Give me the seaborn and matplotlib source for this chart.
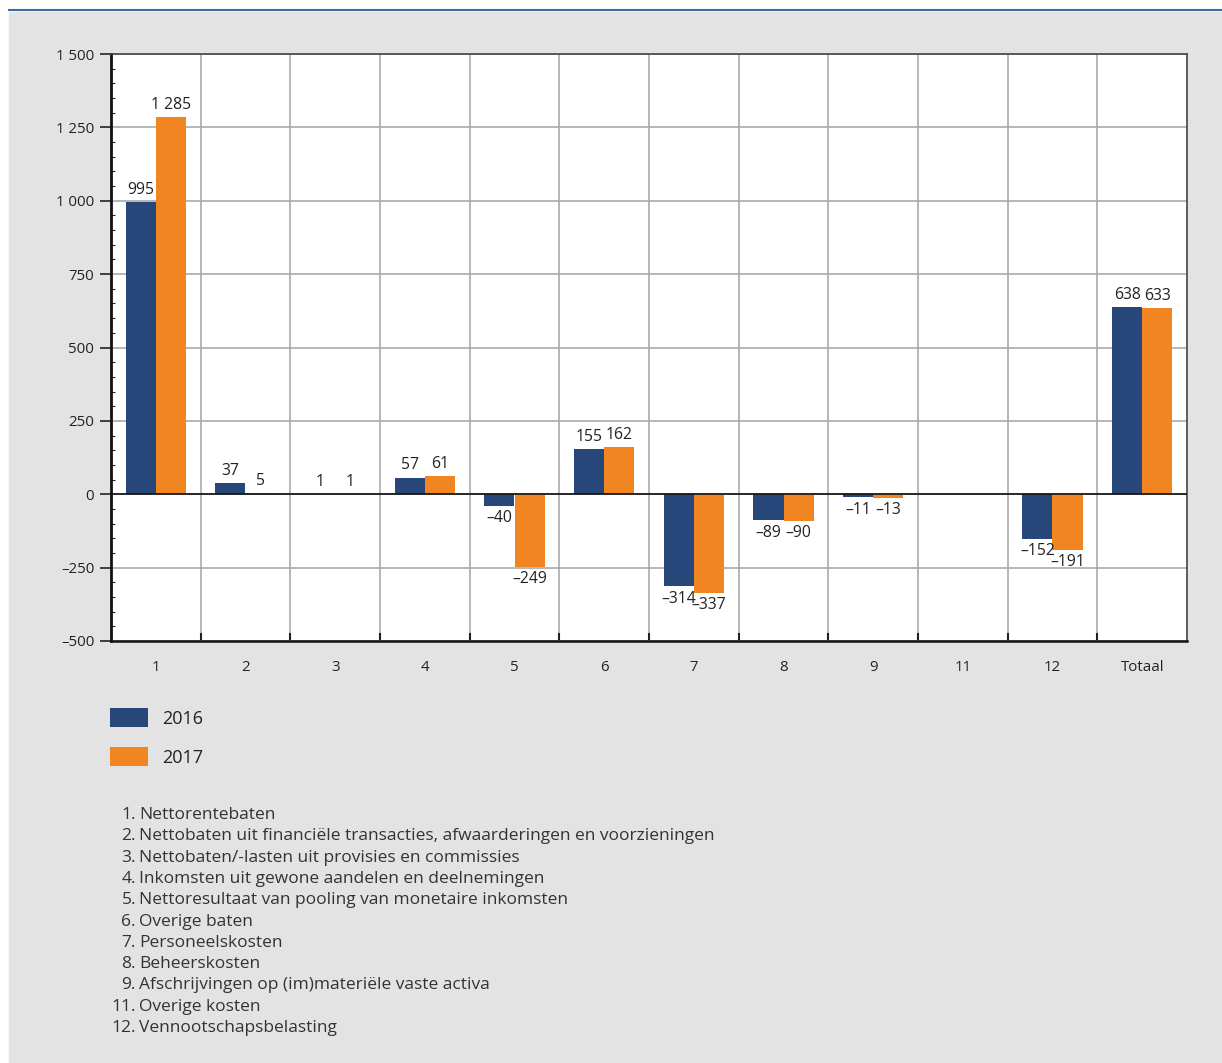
import numpy as np
import pandas as pd
import matplotlib
matplotlib.use('Agg')
import matplotlib.pyplot as plt
import seaborn as sns
from matplotlib.ticker import MultipleLocator, FixedLocator
from matplotlib.patches import Patch

# Gegevens (miljoen euro)
categorieen = ['1', '2', '3', '4', '5', '6', '7', '8', '9', '11', '12', 'Totaal']
waarden_2016 = [995, 37, 1, 57, -40, 155, -314, -89, -11, None, -152, 638]
waarden_2017 = [1285, 5, 1, 61, -249, 162, -337, -90, -13, None, -191, 633]
jaren = ['2016', '2017']
yticks = [-500, -250, 0, 250, 500, 750, 1000, 1250, 1500]
toelichting = [
    ('1.', 'Nettorentebaten'),
    ('2.', 'Nettobaten uit financiële transacties, afwaarderingen en voorzieningen'),
    ('3.', 'Nettobaten/-lasten uit provisies en commissies'),
    ('4.', 'Inkomsten uit gewone aandelen en deelnemingen'),
    ('5.', 'Nettoresultaat van pooling van monetaire inkomsten'),
    ('6.', 'Overige baten'),
    ('7.', 'Personeelskosten'),
    ('8.', 'Beheerskosten'),
    ('9.', 'Afschrijvingen op (im)materiële vaste activa'),
    ('11.', 'Overige kosten'),
    ('12.', 'Vennootschapsbelasting'),
]

kleuren = ['#27477a', '#f08522']
achtergrond = '#e3e3e3'

df = pd.DataFrame({
    'categorie': categorieen * 2,
    'jaar': ['2016'] * len(categorieen) + ['2017'] * len(categorieen),
    'waarde': waarden_2016 + waarden_2017,
})
df['plot'] = df['waarde'].fillna(0).astype(float)

plt.rcParams['font.family'] = ['Open Sans', 'DejaVu Sans']

def fmt(v):
    if v is None or (isinstance(v, float) and np.isnan(v)):
        return ''
    s = f'{abs(int(v)):,}'.replace(',', ' ')
    return ('\u2013' if v < 0 else '') + s

fig = plt.figure(figsize=(12.22, 10.63), dpi=100)
fig.patch.set_facecolor('white')
# grijs kader met blauwe lijn bovenaan
fig.patches.append(plt.Rectangle((9 / 1222, 0), 1 - 9 / 1222, 1 - 12 / 1063,
                                 transform=fig.transFigure, color=achtergrond, zorder=-10))
fig.lines.append(plt.Line2D([9 / 1222, 1], [1 - 10 / 1063] * 2, transform=fig.transFigure,
                            color='#3a6aa0', lw=1.5, zorder=-9))

ax = fig.add_axes([111 / 1222, 1 - 641 / 1063, (1187 - 111) / 1222, (641 - 54) / 1063])
ax.set_facecolor('white')

sns.barplot(data=df, x='categorie', y='plot', hue='jaar', order=categorieen,
            hue_order=jaren, palette=kleuren, width=0.67, saturation=1,
            legend=False, ax=ax, zorder=3)

for cont, waarden in zip(ax.containers, [waarden_2016, waarden_2017]):
    ax.bar_label(cont, labels=[fmt(v) for v in waarden], padding=3, fontsize=11.3,
                 color='#222222')

ax.set_xlim(-0.5, len(categorieen) - 0.5)
ax.set_ylim(-500, 1500)
ax.set_yticks(yticks)
ax.set_yticklabels([fmt(v) for v in yticks])
ax.yaxis.set_minor_locator(MultipleLocator(50))
ax.xaxis.set_minor_locator(FixedLocator(np.arange(0.5, len(categorieen) - 0.5, 1)))

ax.tick_params(axis='y', which='major', direction='out', length=8, width=1.2,
               labelsize=10.8, colors='#222222', pad=4)
ax.tick_params(axis='y', which='minor', direction='in', length=3, width=0.8, color='#222222')
ax.tick_params(axis='x', which='major', length=0, labelsize=10.8, colors='#222222', pad=14)
ax.tick_params(axis='x', which='minor', direction='in', length=6, width=1.5, color='#222222')

ax.grid(axis='y', which='major', color='#aaaaaa', lw=1.2, zorder=0)
ax.grid(axis='x', which='minor', color='#aaaaaa', lw=1.2, zorder=0)
ax.set_axisbelow(True)
ax.axhline(0, color='#111111', lw=1.2, zorder=4)

ax.set_xlabel('')
ax.set_ylabel('')
for kant in ['top', 'right']:
    ax.spines[kant].set_color('#444444')
    ax.spines[kant].set_linewidth(1.2)
ax.spines['left'].set_color('#111111')
ax.spines['left'].set_linewidth(2)
ax.spines['bottom'].set_color('#111111')
ax.spines['bottom'].set_linewidth(1.8)

# legenda
handles = [Patch(facecolor=k, edgecolor='none') for k in kleuren]
fig.legend(handles, jaren, loc='upper left', bbox_to_anchor=(110 / 1222, 1 - 708 / 1063),
           frameon=False, fontsize=13, handlelength=2.1, handleheight=1.27,
           handletextpad=0.8, labelspacing=1.07, borderpad=0, borderaxespad=0,
           labelcolor='#222222')

# toelichting
y0 = 815
for i, (nr, tekst) in enumerate(toelichting):
    y = 1 - (y0 + i * 21.3) / 1063
    fig.text(136 / 1222, y, nr, ha='right', va='center', fontsize=12.5, color='#333333')
    fig.text(139 / 1222, y, tekst, ha='left', va='center', fontsize=12.5, color='#333333')

fig.savefig('out.png', dpi=100, facecolor=fig.get_facecolor())
